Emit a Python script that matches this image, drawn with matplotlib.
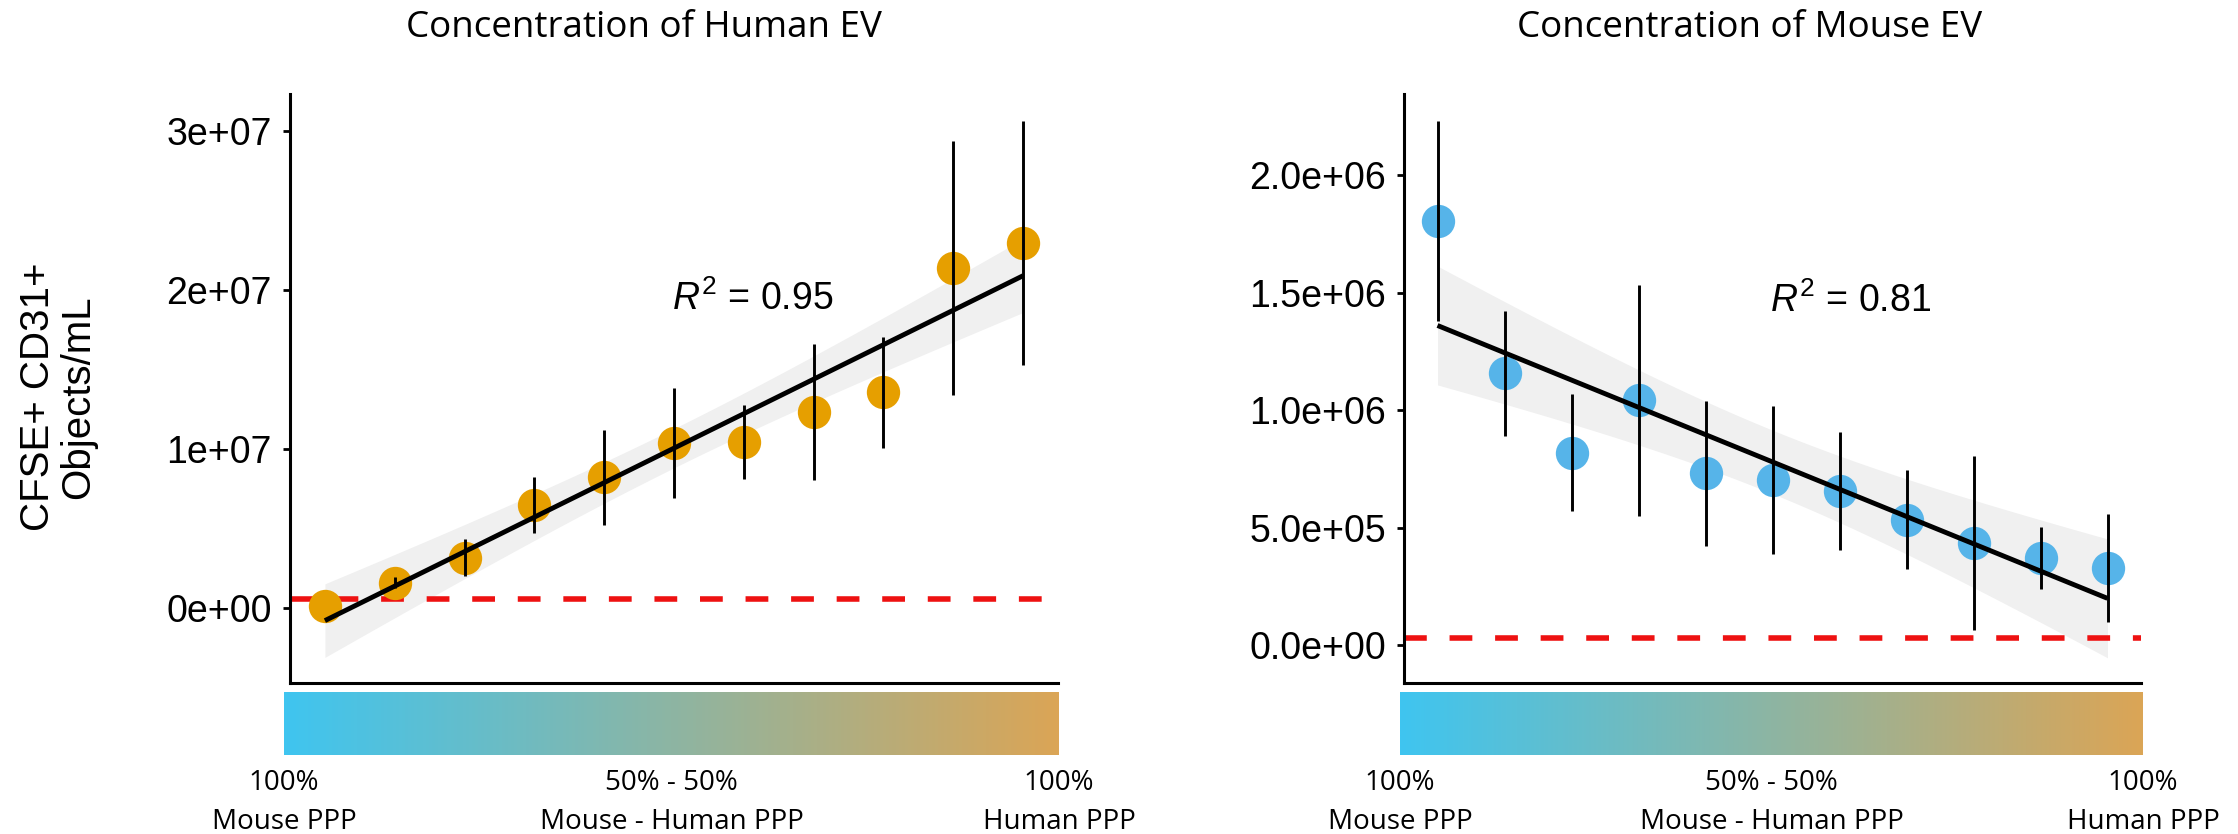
import numpy as np
import matplotlib
matplotlib.use("Agg")
import matplotlib.pyplot as plt
from matplotlib.colors import LinearSegmentedColormap

# ---------------- data ----------------
mix_levels = np.arange(1, 12)  # 11 mixes: 100% mouse PPP -> 100% human PPP

human_ev_mean = [0.01e7, 0.157e7, 0.316e7, 0.646e7, 0.82e7, 1.036e7,
                 1.044e7, 1.23e7, 1.354e7, 2.137e7, 2.294e7]
human_ev_sd = [0.0, 0.035e7, 0.118e7, 0.174e7, 0.30e7, 0.348e7,
               0.233e7, 0.428e7, 0.35e7, 0.80e7, 0.768e7]
human_threshold = 5.5e5
human_r2_label = "0.95"

mouse_ev_mean = [1.804e6, 1.157e6, 0.820e6, 1.042e6, 0.731e6, 0.703e6,
                 0.656e6, 0.535e6, 0.437e6, 0.370e6, 0.328e6]
mouse_ev_sd = [0.425e6, 0.267e6, 0.25e6, 0.49e6, 0.31e6, 0.315e6,
               0.25e6, 0.21e6, 0.37e6, 0.132e6, 0.23e6]
mouse_threshold = 3.0e4
mouse_r2_label = "0.81"

titles = ["Concentration of Human EV", "Concentration of Mouse EV"]
ylabel = "CFSE+ CD31+\nObjects/mL"

human_yticks = [0, 1e7, 2e7, 3e7]
human_yticklabels = ["0e+00", "1e+07", "2e+07", "3e+07"]
mouse_yticks = [0, 5e5, 1e6, 1.5e6, 2e6]
mouse_yticklabels = ["0.0e+00", "5.0e+05", "1.0e+06", "1.5e+06", "2.0e+06"]

mix_labels_top = ["100%", "50% - 50%", "100%"]
mix_labels_bottom = ["Mouse PPP", "Mouse - Human PPP", "Human PPP"]

human_color = "#E69F00"
mouse_color = "#56B4E9"
T_CRIT = 2.262  # t quantile 0.975, df = 9

# ---------------- fonts ----------------
plt.rcParams["font.family"] = ["Liberation Sans", "DejaVu Sans"]
plt.rcParams["mathtext.fontset"] = "custom"
plt.rcParams["mathtext.it"] = "Liberation Sans:italic"
plt.rcParams["mathtext.rm"] = "Liberation Sans"
label_font = ["Open Sans", "DejaVu Sans"]

W, H, DPI = 2238, 834, 100
fig = plt.figure(figsize=(W / DPI, H / DPI), dpi=DPI)


def box(x0, y0, x1, y1):
    return [x0 / W, 1 - y1 / H, (x1 - x0) / W, (y1 - y0) / H]


def fx(x):
    return x / W


def fy(y):
    return 1 - y / H


grad_cmap = LinearSegmentedColormap.from_list("mix", ["#3FC5F0", "#DBA556"])


def panel(ax, mean, sd, color, thr, r2_label, r2_xy, ylim, yticks, yticklabels):
    x = np.asarray(mix_levels, dtype=float)
    y = np.asarray(mean, dtype=float)
    slope, icpt = np.polyfit(x, y, 1)
    resid = y - (slope * x + icpt)
    n = len(x)
    s = np.sqrt(np.sum(resid ** 2) / (n - 2))
    xg = np.linspace(x.min(), x.max(), 100)
    yg = slope * xg + icpt
    se = s * np.sqrt(1 / n + (xg - x.mean()) ** 2 / np.sum((x - x.mean()) ** 2))
    ax.fill_between(xg, yg - T_CRIT * se, yg + T_CRIT * se, color="#F0F0F0",
                    lw=0, zorder=1)
    ax.axhline(thr, color="#EE1111", lw=4, dashes=(4.1, 4.1), zorder=2)
    ax.plot(x, y, "o", ms=24, color=color, mec="none", zorder=3)
    ax.errorbar(x, y, yerr=sd, fmt="none", ecolor="black", elinewidth=2.1,
                capsize=0, zorder=4)
    ax.plot(xg, yg, color="black", lw=3.5, solid_capstyle="butt", zorder=5)
    ax.text(r2_xy[0], r2_xy[1], r"$R^2$ = " + r2_label, fontsize=27,
            ha="center", va="center", zorder=6)
    ax.set_xlim(0.5, 11.5)
    ax.set_ylim(*ylim)
    ax.set_yticks(yticks)
    ax.set_yticklabels(yticklabels, fontsize=27)
    ax.set_xticks([])
    for sp in ["top", "right"]:
        ax.spines[sp].set_visible(False)
    for sp in ["left", "bottom"]:
        ax.spines[sp].set_linewidth(2.2)
    ax.tick_params(axis="y", length=5, width=2, pad=8)
    ax.patch.set_alpha(0)


axL = fig.add_axes(box(290, 94, 1058, 683))
panel(axL, human_ev_mean, human_ev_sd, human_color, human_threshold,
      human_r2_label, (7.13, 1.94e7), (-0.472e7, 3.23e7),
      human_yticks, human_yticklabels)

axR = fig.add_axes(box(1404, 94, 2141, 683))
panel(axR, mouse_ev_mean, mouse_ev_sd, mouse_color, mouse_threshold,
      mouse_r2_label, (7.16, 1.463e6), (-0.16e6, 2.345e6),
      mouse_yticks, mouse_yticklabels)

# gradient bars and their labels
grad = np.linspace(0, 1, 256).reshape(1, -1)
for (x0, x1) in [(284, 1059), (1400, 2143)]:
    gax = fig.add_axes(box(x0, 692, x1, 755))
    gax.imshow(grad, aspect="auto", cmap=grad_cmap)
    gax.axis("off")
    xs = [x0, (x0 + x1) / 2, x1]
    for xc, t1, t2 in zip(xs, mix_labels_top, mix_labels_bottom):
        fig.text(fx(xc), fy(783), t1, ha="center", va="center", fontsize=20,
                 family=label_font)
        fig.text(fx(xc), fy(822), t2, ha="center", va="center", fontsize=20,
                 family=label_font)

# titles
fig.text(fx(644), fy(28), titles[0], ha="center", va="center", fontsize=26.5,
         family=label_font)
fig.text(fx(1750), fy(28), titles[1], ha="center", va="center", fontsize=26.5,
         family=label_font)

# y label
fig.text(fx(58), fy(397), ylabel, rotation=90, ha="center", va="center",
         fontsize=29, linespacing=1.05, multialignment="center")

fig.savefig("out.png", dpi=DPI)
